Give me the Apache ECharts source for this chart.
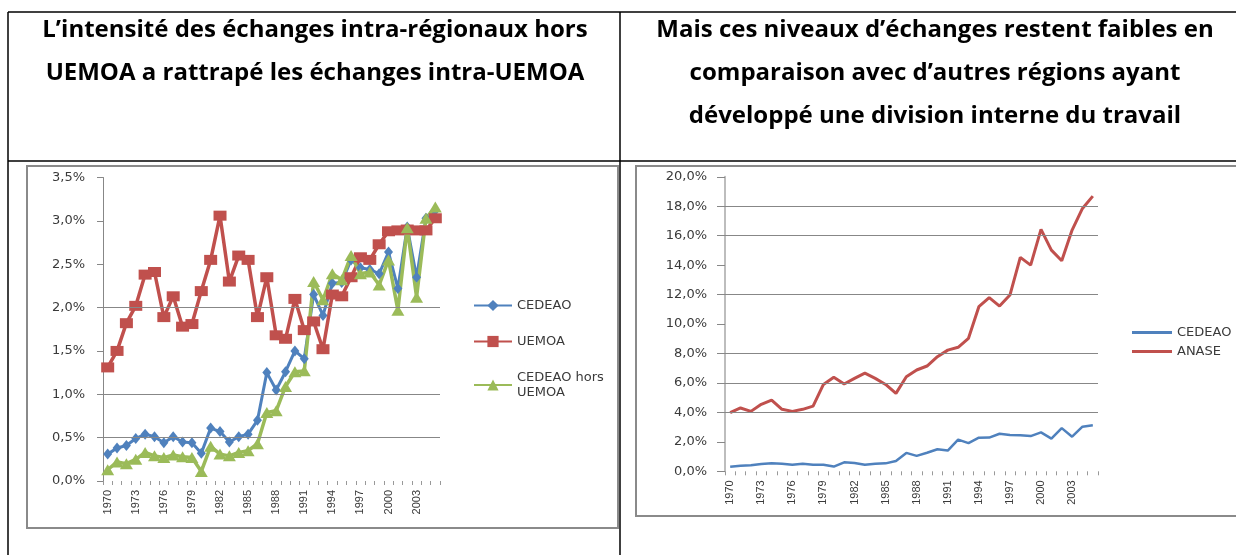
<!DOCTYPE html>
<html>
<head>
<meta charset="utf-8">
<script src="https://cdn.jsdelivr.net/npm/echarts@6/dist/echarts.min.js"></script>
<style>
html,body{margin:0;padding:0;background:#fff;}
#chart{width:1236px;height:555px;}
</style>
</head>
<body>
<div id="chart"></div>
<script>
// ---- data ----
const years = ['1970','1971','1972','1973','1974','1975','1976','1977','1978','1979',
  '1980','1981','1982','1983','1984','1985','1986','1987','1988','1989',
  '1990','1991','1992','1993','1994','1995','1996','1997','1998','1999',
  '2000','2001','2002','2003','2004','2005'];

const cedeao = [0.31,0.38,0.41,0.49,0.54,0.51,0.44,0.51,0.45,0.44,
  0.32,0.61,0.57,0.45,0.51,0.54,0.70,1.25,1.05,1.26,
  1.50,1.41,2.15,1.91,2.28,2.29,2.55,2.46,2.44,2.39,
  2.64,2.22,2.93,2.35,3.03,3.12];

const uemoa = [1.31,1.50,1.82,2.02,2.38,2.41,1.89,2.13,1.78,1.81,
  2.19,2.55,3.06,2.30,2.60,2.55,1.89,2.35,1.68,1.64,
  2.10,1.74,1.84,1.52,2.15,2.13,2.35,2.58,2.55,2.73,
  2.88,2.89,2.90,2.89,2.89,3.03];

const horsUemoa = [0.13,0.22,0.20,0.25,0.33,0.29,0.27,0.30,0.28,0.27,
  0.11,0.40,0.31,0.29,0.33,0.35,0.43,0.79,0.81,1.09,
  1.26,1.27,2.30,2.09,2.39,2.32,2.60,2.39,2.41,2.26,
  2.55,1.97,2.92,2.12,3.03,3.16];

const anase = [3.98,4.30,4.07,4.55,4.84,4.21,4.07,4.21,4.43,5.90,
  6.38,5.93,6.31,6.67,6.31,5.90,5.29,6.42,6.88,7.15,
  7.78,8.23,8.42,9.03,11.18,11.79,11.22,11.97,14.53,14.00,
  16.43,15.02,14.30,16.38,17.85,18.69];

// gridlines visible in the reference
const gridValuesLeft = [0.5, 1.0, 2.0];
const gridValuesRight = [4, 6, 8, 12, 16, 18];

const titleLeft = 'L’intensité des échanges intra-régionaux hors\nUEMOA a rattrapé les échanges intra-UEMOA';
const titleRight = 'Mais ces niveaux d’échanges restent faibles en\ncomparaison avec d’autres régions ayant\ndéveloppé une division interne du travail';

// ---- chart ----
const BLUE = '#4F81BD', RED = '#C0504D', GREEN = '#9BBB59';
const TXT = '#3a3a3a';
const FONT = 'DejaVu Sans';
const pct = v => v.toFixed(1).replace('.', ',') + '%';

function gridLineSeries(xi, yi, values) {
  return {
    type: 'line', xAxisIndex: xi, yAxisIndex: yi, data: [], z: 1, silent: true,
    markLine: {
      silent: true, symbol: 'none', label: {show: false}, animation: false,
      lineStyle: {color: '#878787', width: 1, type: 'solid'},
      data: values.map(v => ({yAxis: v}))
    }
  };
}

const xAxisBase = {
  type: 'category', data: years, boundaryGap: true,
  axisLine: {show: false},
  axisTick: {show: true, interval: 0, length: 4, lineStyle: {color: '#999'}},
  axisLabel: {interval: 2, rotate: 90, margin: 9, fontFamily: 'Liberation Sans', fontSize: 11, color: TXT},
  splitLine: {show: false}
};

const titleStyle = {fontFamily: 'Open Sans', fontWeight: 'bold', fontSize: 24, lineHeight: 43, color: '#000'};

const chart = echarts.init(document.getElementById('chart'), null, {renderer: 'canvas'});
chart.setOption({
  animation: false,
  backgroundColor: '#fff',
  title: [
    {text: titleLeft, left: 315, top: 9, padding: 0, textAlign: 'center', textStyle: titleStyle},
    {text: titleRight, left: 935, top: 9, padding: 0, textAlign: 'center', textStyle: titleStyle}
  ],
  graphic: [
    // table lines
    {type: 'line', shape: {x1: 8, y1: 12, x2: 1236, y2: 12}, style: {stroke: '#000', lineWidth: 1.5}},
    {type: 'line', shape: {x1: 8, y1: 12, x2: 8, y2: 555}, style: {stroke: '#000', lineWidth: 1.5}},
    {type: 'line', shape: {x1: 620, y1: 12, x2: 620, y2: 555}, style: {stroke: '#000', lineWidth: 1.5}},
    {type: 'line', shape: {x1: 8, y1: 161, x2: 1236, y2: 161}, style: {stroke: '#000', lineWidth: 1.5}},
    // chart frames
    {type: 'rect', shape: {x: 27, y: 166, width: 591, height: 362}, style: {fill: 'none', stroke: '#8a8a8a', lineWidth: 2}},
    {type: 'rect', shape: {x: 636, y: 166, width: 640, height: 350}, style: {fill: 'none', stroke: '#8a8a8a', lineWidth: 2}}
  ],
  legend: [
    {orient: 'vertical', left: 468, top: 293, itemWidth: 38, itemHeight: 14, itemGap: 21,
     data: ['CEDEAO', 'UEMOA', 'CEDEAO hors\nUEMOA'],
     textStyle: {fontFamily: FONT, fontSize: 13, color: TXT, lineHeight: 15}},
    {orient: 'vertical', left: 1127, top: 321, itemWidth: 40, itemHeight: 3, itemGap: 6,
     data: [{name: 'CEDEAO ', icon: 'rect'}, {name: 'ANASE', icon: 'rect'}],
     textStyle: {fontFamily: FONT, fontSize: 13, color: TXT}}
  ],
  grid: [
    {left: 103, top: 177.5, width: 337, height: 303.5},
    {left: 725, top: 176.8, width: 373, height: 294.5}
  ],
  xAxis: [
    Object.assign({gridIndex: 0}, xAxisBase),
    Object.assign({gridIndex: 1}, xAxisBase)
  ],
  yAxis: [
    {gridIndex: 0, type: 'value', min: 0, max: 3.5, interval: 0.5,
     axisLine: {show: true, lineStyle: {color: '#878787', width: 1}},
     axisTick: {show: true, length: 6, lineStyle: {color: '#878787'}},
     axisLabel: {formatter: pct, margin: 18, fontFamily: FONT, fontSize: 13, color: TXT},
     splitLine: {show: false}},
    {gridIndex: 1, type: 'value', min: 0, max: 20, interval: 2,
     axisLine: {show: true, lineStyle: {color: '#bdbdbd', width: 2}},
     axisTick: {show: true, length: 8, lineStyle: {color: '#878787'}},
     axisLabel: {formatter: pct, margin: 18, fontFamily: FONT, fontSize: 13, color: TXT},
     splitLine: {show: false}}
  ],
  series: [
    gridLineSeries(0, 0, gridValuesLeft),
    gridLineSeries(1, 1, gridValuesRight),
    {name: 'CEDEAO', type: 'line', xAxisIndex: 0, yAxisIndex: 0, data: cedeao, z: 3,
     symbol: 'diamond', symbolSize: [9, 11], showAllSymbol: true,
     lineStyle: {color: BLUE, width: 3}, itemStyle: {color: BLUE}},
    {name: 'UEMOA', type: 'line', xAxisIndex: 0, yAxisIndex: 0, data: uemoa, z: 3,
     symbol: 'rect', symbolSize: [13, 10], showAllSymbol: true,
     lineStyle: {color: RED, width: 3.5}, itemStyle: {color: RED}},
    {name: 'CEDEAO hors\nUEMOA', type: 'line', xAxisIndex: 0, yAxisIndex: 0, data: horsUemoa, z: 3,
     symbol: 'triangle', symbolSize: [13, 11], showAllSymbol: true,
     lineStyle: {color: GREEN, width: 3.5}, itemStyle: {color: GREEN}},
    {name: 'CEDEAO ', type: 'line', xAxisIndex: 1, yAxisIndex: 1, data: cedeao, z: 3,
     symbol: 'none', lineStyle: {color: BLUE, width: 2.5}, itemStyle: {color: BLUE}},
    {name: 'ANASE', type: 'line', xAxisIndex: 1, yAxisIndex: 1, data: anase, z: 3,
     symbol: 'none', lineStyle: {color: RED, width: 3}, itemStyle: {color: RED}}
  ]
});
</script>
</body>
</html>
